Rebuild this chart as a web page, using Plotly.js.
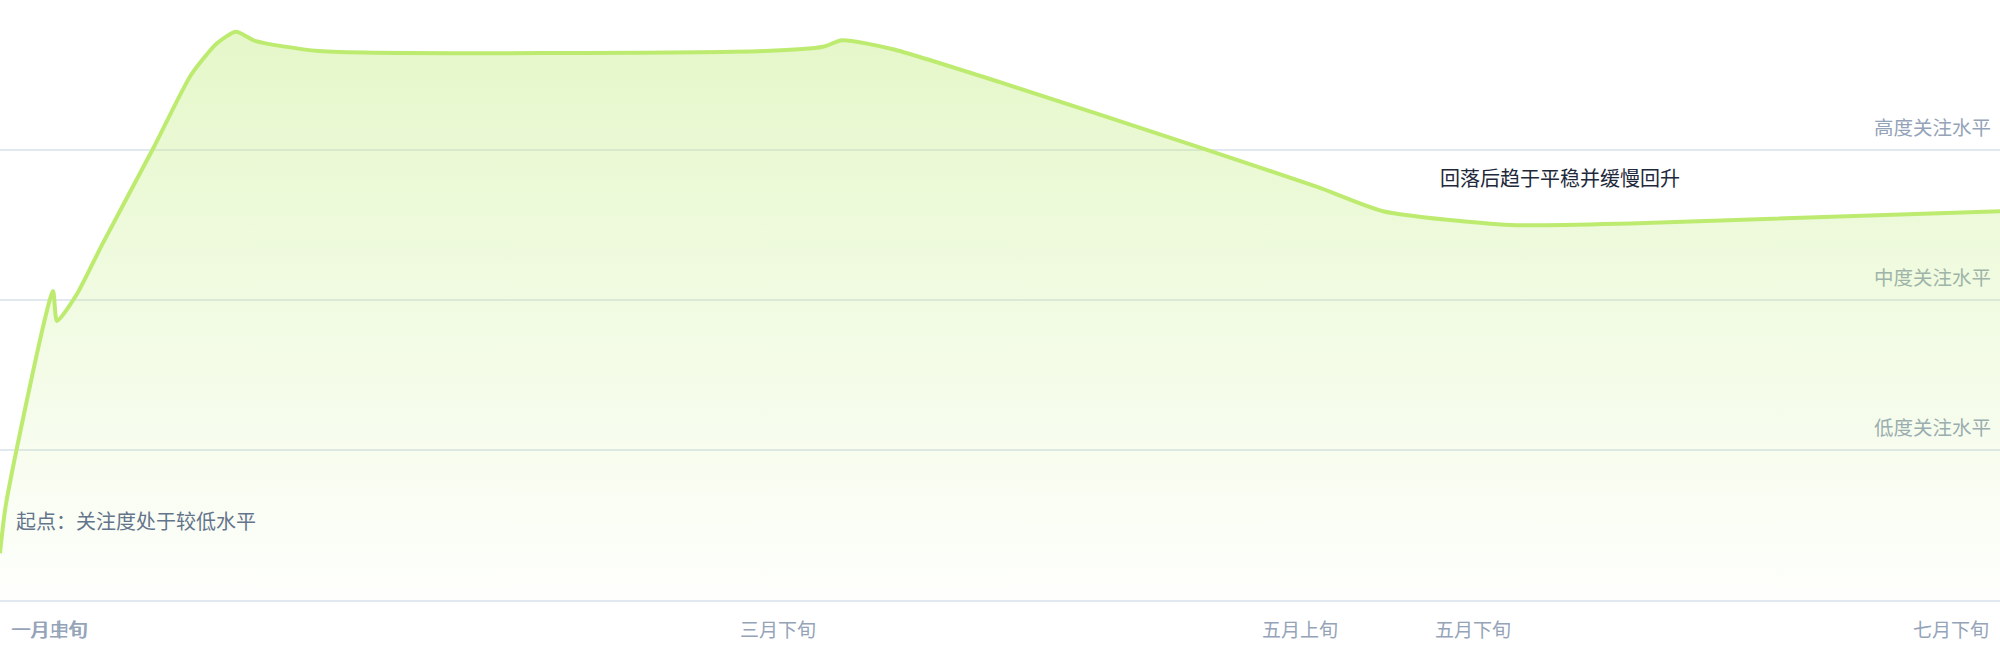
<!DOCTYPE html>
<html>
<head>
<meta charset="utf-8">
<script src="https://cdn.plot.ly/plotly-3.0.1.min.js"></script>
<style>
  html, body { margin: 0; padding: 0; background: #fff; }
  #myDiv { width: 2000px; height: 660px; }
</style>
</head>
<body>
<div id="myDiv"></div>
<script>
// values
var days  = [0, 0.3, 2.65, 2.85, 3.85, 5.1, 7.65, 9.55, 10.85, 11.8, 12.75, 15.95, 38.25, 41.15, 42.1, 44.65, 50, 60.2, 65.9, 69.15, 75.5, 81.9, 100];
var level = [7.8, 16, 51.5, 46.5, 51, 59.2, 75.2, 87.5, 92.8, 94.7, 93.2, 91.5, 91.5, 92.2, 93.3, 91.8, 86.3, 75.2, 68.8, 64.8, 62.5, 62.8, 64.8];

var xTickVals = [2.43, 2.5, 38.9, 65, 73.65, 97.55];
var xTickText = ['一月上旬', '一月中旬', '三月下旬', '五月上旬', '五月下旬', '七月下旬'];

var yTickVals = [25, 50, 75];
var yTickText = ['低度关注水平', '中度关注水平', '高度关注水平'];

var startNote = '起点：关注度处于较低水平';
var troughNote = '回落后趋于平稳并缓慢回升';

var cjk = '"Noto Sans CJK SC", "Noto Sans", sans-serif';

// lowest point after the peak, used for the note
var peakIdx = level.indexOf(Math.max.apply(null, level));
var troughIdx = peakIdx;
for (let i = peakIdx; i < level.length; i++) {
  if (level[i] < level[troughIdx]) troughIdx = i;
}

var trace = {
  x: days,
  y: level,
  type: 'scatter',
  mode: 'lines',
  line: { shape: 'spline', smoothing: 0.6, color: '#bdeb70', width: 4 },
  fill: 'tozeroy',
  fillcolor: 'rgba(190,236,120,0.2)',
  fillgradient: {
    type: 'vertical',
    start: 0,
    stop: 100,
    colorscale: [[0, 'rgba(190,236,120,0.02)'], [1, 'rgba(190,236,120,0.42)']]
  },
  hoverinfo: 'skip'
};

var notes = [
  {
    x: days[0], y: level[0], xref: 'x', yref: 'y',
    text: startNote, showarrow: false,
    xanchor: 'left', yanchor: 'middle', xshift: 14, yshift: 33,
    font: { family: cjk, size: 20, color: '#64748b' }
  },
  {
    x: days[troughIdx], y: level[troughIdx], xref: 'x', yref: 'y',
    text: troughNote, showarrow: false,
    xanchor: 'center', yanchor: 'middle', xshift: 50, yshift: 48,
    font: { family: cjk, size: 20, color: '#1e293b' }
  }
];

// x labels placed on the x scale (plotly drops the one at the right edge as a tick label)
for (let i = 0; i < xTickVals.length; i++) {
  notes.push({
    x: xTickVals[i], y: 0, xref: 'x', yref: 'paper',
    text: xTickText[i], showarrow: false,
    xanchor: 'center', yanchor: 'middle', yshift: -28,
    font: { family: cjk, size: 19, color: '#94a3b8' }
  });
}

var layout = {
  width: 2000,
  height: 660,
  margin: { l: 0, r: 0, t: 0, b: 60 },
  paper_bgcolor: '#ffffff',
  plot_bgcolor: '#ffffff',
  showlegend: false,
  xaxis: {
    range: [0, 100],
    showticklabels: false,
    showgrid: false,
    zeroline: false,
    showline: true,
    linecolor: '#e2e8f0',
    linewidth: 2,
    ticks: ''
  },
  yaxis: {
    range: [0, 100],
    side: 'right',
    tickvals: yTickVals,
    ticktext: yTickText,
    ticklabelposition: 'inside top',
    ticklabelstandoff: 6,
    ticklabelshift: -8,
    gridcolor: '#e2e8f0',
    gridwidth: 1.5,
    zeroline: false,
    showline: false,
    ticks: '',
    layer: 'below traces',
    tickfont: { family: cjk, size: 19.5, color: '#94a3b8' }
  },
  annotations: notes
};

Plotly.newPlot('myDiv', [trace], layout, { staticPlot: true, displayModeBar: false });
</script>
</body>
</html>
